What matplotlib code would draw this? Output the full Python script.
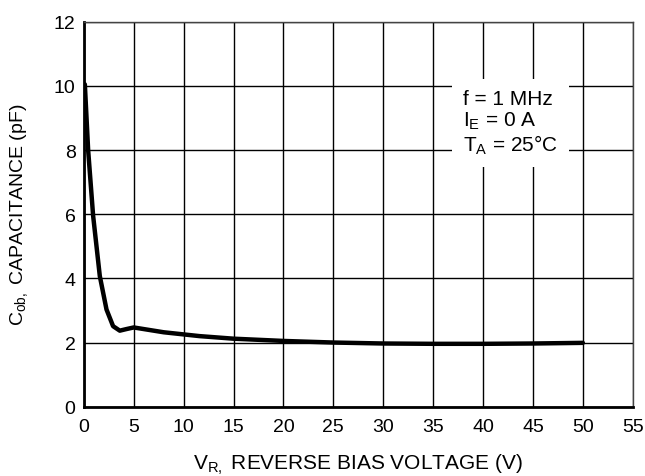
import matplotlib
matplotlib.use("Agg")
import matplotlib.pyplot as plt

plt.rcParams['font.family'] = ['Liberation Sans', 'DejaVu Sans']
plt.rcParams['mathtext.default'] = 'regular'

# reverse bias voltage (V) and output capacitance (pF)
vr = [0.1, 0.43, 0.93, 1.6, 2.27, 2.93, 3.6, 4.27, 5.0, 8.0, 11.6, 15.0, 20.0, 25.0, 30.0, 35.0, 40.0, 45.0, 50.0]
cob = [10.05, 8.0, 5.95, 4.07, 3.03, 2.51, 2.37, 2.42, 2.47, 2.32, 2.2, 2.12, 2.05, 2.0, 1.97, 1.96, 1.96, 1.97, 1.99]

x_ticks = list(range(0, 56, 5))
y_ticks = list(range(0, 13, 2))

fig = plt.figure(figsize=(6.45, 4.77), dpi=100)
ax = fig.add_axes([0.130, 0.1453, 0.851, 0.807])

ax.plot(vr, cob, color='black', lw=3.2, solid_capstyle='round', zorder=3)

ax.set_xlim(0, 55)
ax.set_ylim(0, 12)
ax.set_xticks(x_ticks)
ax.set_yticks(y_ticks)
ax.grid(True, color='black', lw=1)
ax.tick_params(length=0, labelsize=14)
ax.tick_params(axis='x', pad=8)
ax.tick_params(axis='y', pad=6)
for side in ['left', 'bottom']:
    ax.spines[side].set_linewidth(2)
for side in ['top', 'right']:
    ax.spines[side].set_linewidth(1)
    ax.spines[side].set_color('#444444')

ax.set_xlabel('V$_{R,}$ REVERSE BIAS VOLTAGE (V)', fontsize=15)
ax.xaxis.set_label_coords(0.5, -0.116)
ax.set_ylabel('C$_{ob,}$ CAPACITANCE (pF)', fontsize=14)
ax.yaxis.set_label_coords(-0.098, 0.5)

ax.text(38.0, 9.9, 'f = 1 MHz\nI$_E$ = 0 A\nT$_A$ = 25°C', fontsize=15,
        va='top', ha='left', linespacing=1.1, zorder=4,
        bbox=dict(facecolor='white', edgecolor='none', pad=8))

fig.savefig('out.png', dpi=100)
